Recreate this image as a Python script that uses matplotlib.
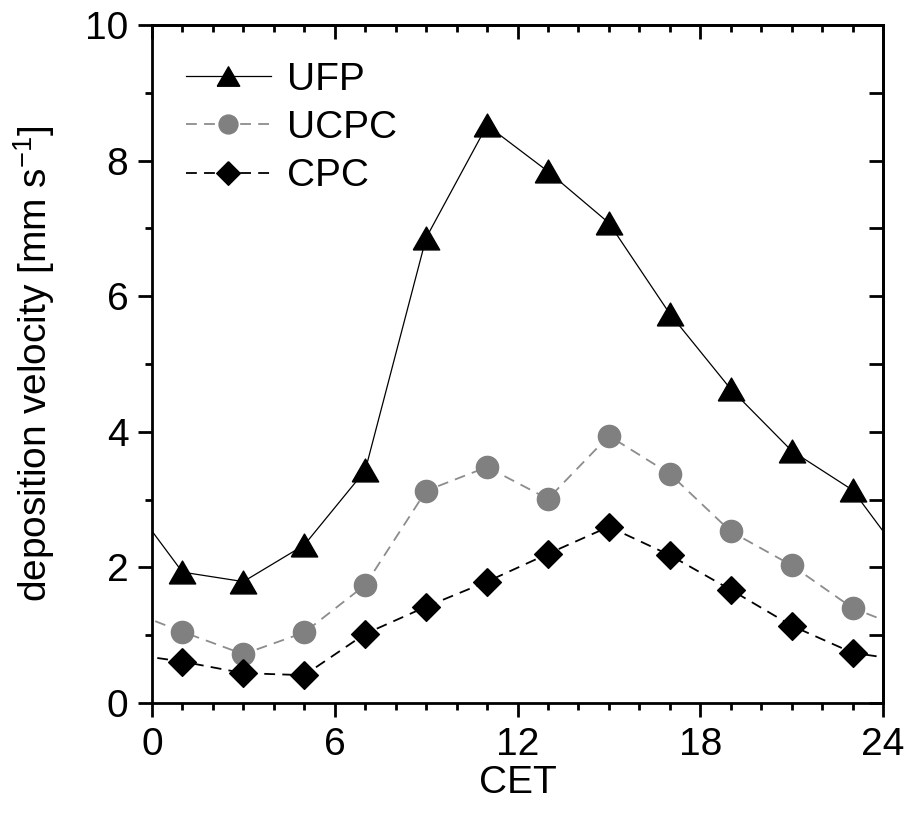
import matplotlib
matplotlib.use("Agg")
import matplotlib.pyplot as plt
from matplotlib.ticker import MultipleLocator

plt.rcParams['font.family'] = ['Liberation Sans', 'DejaVu Sans']
plt.rcParams['mathtext.fontset'] = 'custom'
plt.rcParams['mathtext.rm'] = 'Liberation Sans'

# hourly means (bins centred on odd hours, CET)
hours = [1, 3, 5, 7, 9, 11, 13, 15, 17, 19, 21, 23]
ufp = [1.93, 1.79, 2.33, 3.43, 6.86, 8.52, 7.84, 7.08, 5.74, 4.63, 3.72, 3.14]
ucpc = [1.05, 0.72, 1.04, 1.74, 3.13, 3.48, 3.01, 3.94, 3.38, 2.53, 2.03, 1.40]
cpc = [0.61, 0.44, 0.41, 1.02, 1.42, 1.79, 2.20, 2.60, 2.18, 1.67, 1.14, 0.74]

xticks = [0, 6, 12, 18, 24]
yticks = [0, 2, 4, 6, 8, 10]

# equilateral triangle and square diamond, sized by their width
tri = [(-1, -0.866), (1, -0.866), (0, 0.866), (-1, -0.866)]
dia = [(0, 1), (1, 0), (0, -1), (-1, 0), (0, 1)]


def wrap(vals):
    # diurnal cycle: repeat the last/first bin beyond the day edges
    return [hours[-1] - 24] + hours + [hours[0] + 24], [vals[-1]] + vals + [vals[0]]


fig = plt.figure(figsize=(9.08, 8.16), dpi=100)
ax = fig.add_axes([0.1674, 0.1385, 0.8051, 0.8309])

x, y = wrap(ufp)
ax.plot(x, y, color='black', lw=0.9, marker=tri, ms=19, markevery=slice(1, -1),
        mfc='black', mec='black', label='UFP')
x, y = wrap(ucpc)
ax.plot(x, y, color='#8c8c8c', lw=1.3, dashes=(6, 4), marker='o', ms=16,
        markevery=slice(1, -1), mfc='#808080', mec='#808080', label='UCPC')
x, y = wrap(cpc)
ax.plot(x, y, color='black', lw=1.3, dashes=(6, 4), marker=dia, ms=20,
        markevery=slice(1, -1), mfc='black', mec='black', label='CPC')

ax.set_xlim(0, 24)
ax.set_ylim(0, 10)
ax.set_xticks(xticks)
ax.set_yticks(yticks)
ax.xaxis.set_minor_locator(MultipleLocator(1))
ax.yaxis.set_minor_locator(MultipleLocator(1))

for s in ax.spines.values():
    s.set_linewidth(2.0)
ax.tick_params(which='both', direction='out', width=2.0, labelsize=28, pad=7,
               top=False, right=False)
ax.tick_params(which='major', length=10)
ax.tick_params(which='minor', length=5)

# inward ticks on the top and right edges
for side, axis in (('top', ax.secondary_xaxis('top')), ('right', ax.secondary_yaxis('right'))):
    axis.spines[side].set_linewidth(2.0)
    if side == 'top':
        axis.set_xticks(xticks)
        axis.xaxis.set_minor_locator(MultipleLocator(1))
    else:
        axis.set_yticks(yticks)
        axis.yaxis.set_minor_locator(MultipleLocator(1))
    axis.tick_params(which='both', direction='in', width=2.0, labelsize=0)
    axis.tick_params(which='major', length=10)
    axis.tick_params(which='minor', length=5 if side == 'top' else 10)
    if side == 'top':
        axis.set_xticklabels([])
    else:
        axis.set_yticklabels([])

ax.set_xlabel('CET', fontsize=28, labelpad=2)
ax.set_ylabel('deposition velocity [mm s$^{\\mathregular{-1}}$]', fontsize=28, labelpad=20)

ax.legend(loc='upper left', bbox_to_anchor=(0.046, 0.946), frameon=False, fontsize=28,
          borderpad=0, borderaxespad=0, handlelength=2.2, handletextpad=0.4,
          labelspacing=0.32, markerscale=0.85)

fig.savefig('out.png', dpi=100)
